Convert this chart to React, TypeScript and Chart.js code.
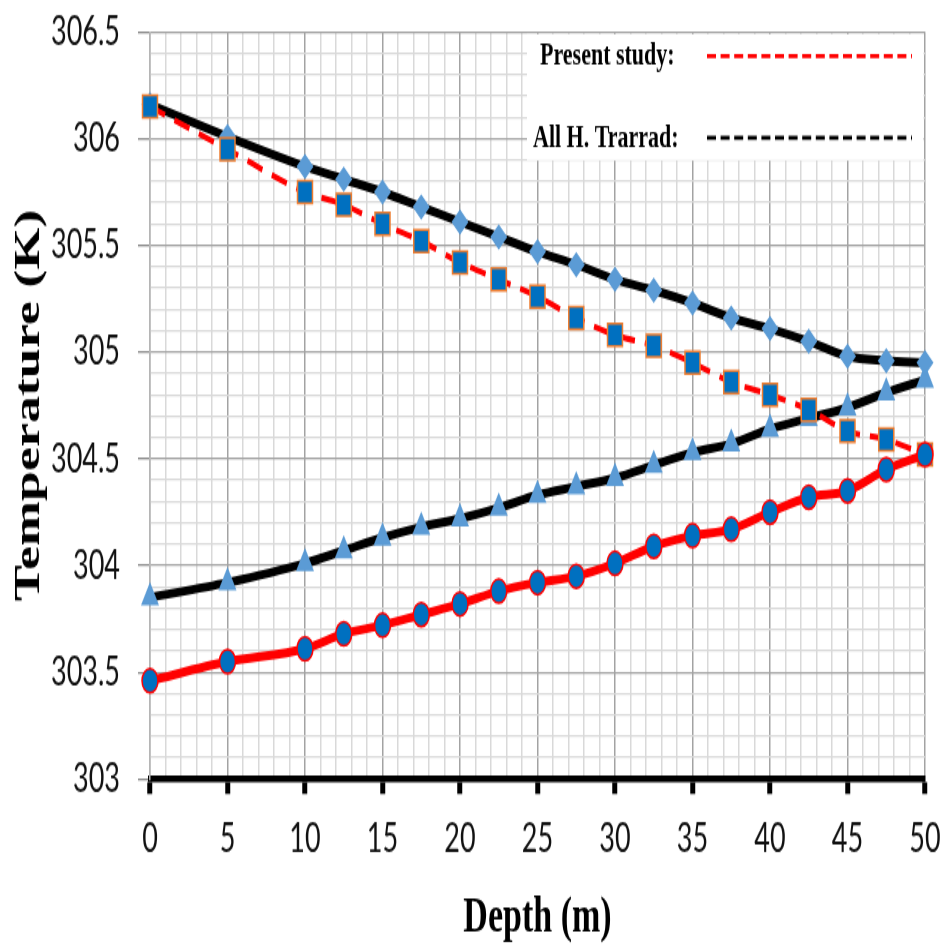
import React, { useEffect, useRef } from 'react';
import { Chart, registerables } from 'chart.js';

Chart.register(...registerables);

// ---- data ----
const depths = [0, 5, 10, 12.5, 15, 17.5, 20, 22.5, 25, 27.5, 30, 32.5, 35, 37.5, 40, 42.5, 45, 47.5, 50];
const presentUpper = [306.15, 305.95, 305.75, 305.69, 305.6, 305.52, 305.42, 305.34, 305.26, 305.16, 305.08, 305.03, 304.95, 304.86, 304.8, 304.73, 304.63, 304.59, 304.52];
const trarradUpper = [306.16, 306.01, 305.87, 305.81, 305.75, 305.68, 305.61, 305.54, 305.47, 305.41, 305.34, 305.29, 305.23, 305.16, 305.11, 305.05, 304.98, 304.96, 304.95];
const trarradLower = [303.85, 303.92, 304.01, 304.07, 304.13, 304.18, 304.22, 304.27, 304.33, 304.37, 304.41, 304.47, 304.53, 304.57, 304.64, 304.69, 304.74, 304.81, 304.87];
const presentLower = [303.46, 303.55, 303.61, 303.68, 303.72, 303.77, 303.82, 303.88, 303.92, 303.95, 304.01, 304.09, 304.14, 304.17, 304.25, 304.32, 304.35, 304.45, 304.52];

const xMin = 0;
const xMax = 50;
const xStep = 1;
const xLabelStep = 5;
const yMin = 303;
const yMax = 306.5;
const yStep = 0.1;
const yLabelStep = 0.5;

const xTitle = 'Depth (m)';
const yTitle = 'Temperature (K)';
const legendLabels = ['Present study:', 'All H. Trarrad:'];
const legendColors = ['#ff0000', '#000000'];

// ---- layout (internal canvas is stretched vertically to the page) ----
const W = 945;
const H = 634;
const OUT_H = 951;

const isMult = (v: number, step: number) => Math.abs(v / step - Math.round(v / step)) < 1e-6;

const toPts = (arr: number[]) => depths.map((d, i) => ({ x: d, y: arr[i] }));

const legendPlugin = {
  id: 'customLegend',
  afterDraw(chart: any) {
    const { ctx, chartArea: a } = chart;
    ctx.save();
    const bx = a.left + 377;
    const by = a.top + 1.5;
    const bw = a.right - 1.5 - bx;
    const bh = 84;
    ctx.fillStyle = '#ffffff';
    ctx.fillRect(bx, by, bw, bh);
    ctx.font = 'bold 22px "Liberation Serif", "Times New Roman", serif';
    ctx.textBaseline = 'middle';
    ctx.textAlign = 'left';
    const rowsY = [a.top + 16.5, a.top + 71];
    const textX = [a.left + 390, a.left + 383];
    legendLabels.forEach((lab, i) => {
      ctx.fillStyle = '#000';
      ctx.fillText(lab, textX[i], rowsY[i]);
      ctx.strokeStyle = legendColors[i];
      ctx.lineWidth = 2.8;
      ctx.setLineDash([9, 4.6]);
      ctx.beginPath();
      ctx.moveTo(a.left + 557, rowsY[i] - 0.5);
      ctx.lineTo(a.left + 762, rowsY[i] - 0.5);
      ctx.stroke();
    });
    ctx.restore();
  },
};

export default function App() {
  const ref = useRef<HTMLCanvasElement | null>(null);

  useEffect(() => {
    if (!ref.current) return;
    const tickFont = { family: 'Lato, "Open Sans", sans-serif', size: 27 };
    const chart = new Chart(ref.current, {
      type: 'line',
      data: {
        datasets: [
          {
            label: 'Present study (lower)',
            data: toPts(presentLower),
            borderColor: '#ff0000',
            borderWidth: 6,
            pointStyle: 'circle',
            pointRadius: 8,
            pointBackgroundColor: '#0070C0',
            pointBorderColor: '#ff0000',
            pointBorderWidth: 1.5,
            cubicInterpolationMode: 'monotone',
            fill: false,
            clip: false,
          },
          {
            label: 'Present study (upper)',
            data: toPts(presentUpper),
            borderColor: '#ff0000',
            borderWidth: 4,
            borderDash: [16, 10],
            pointStyle: 'rect',
            pointRadius: 10.6,
            pointBackgroundColor: '#0070C0',
            pointBorderColor: '#ED7D31',
            pointBorderWidth: 1.5,
            cubicInterpolationMode: 'monotone',
            fill: false,
            clip: false,
          },
          {
            label: 'All H. Trarrad (upper)',
            data: toPts(trarradUpper),
            borderColor: '#000000',
            borderWidth: 6,
            pointStyle: 'rectRot',
            pointRadius: 8.5,
            pointBackgroundColor: '#5B9BD5',
            pointBorderColor: '#5B9BD5',
            pointBorderWidth: 0,
            cubicInterpolationMode: 'monotone',
            fill: false,
            clip: false,
          },
          {
            label: 'All H. Trarrad (lower)',
            data: toPts(trarradLower),
            borderColor: '#000000',
            borderWidth: 6,
            pointStyle: 'triangle',
            pointRadius: 10.4,
            pointBackgroundColor: '#5B9BD5',
            pointBorderColor: '#5B9BD5',
            pointBorderWidth: 0,
            cubicInterpolationMode: 'monotone',
            fill: false,
            clip: false,
          },
        ],
      },
      options: {
        animation: false,
        responsive: false,
        maintainAspectRatio: false,
        devicePixelRatio: 1,
        events: [],
        layout: { padding: { top: 21.3, right: 20, left: 0, bottom: 0 } },
        plugins: {
          legend: { display: false },
          tooltip: { enabled: false },
          title: { display: false },
        },
        scales: {
          x: {
            type: 'linear',
            min: xMin,
            max: xMax,
            afterFit: (s: any) => {
              s.height = H - 519.3;
              s.paddingLeft = 0;
              s.paddingRight = 0;
              s.paddingTop = 0;
              s.paddingBottom = 0;
            },
            ticks: {
              stepSize: xStep,
              autoSkip: false,
              maxRotation: 0,
              minRotation: 0,
              maxTicksLimit: 500,
              padding: 14,
              color: '#111',
              font: tickFont,
              callback: (v: any) => (isMult(Number(v), xLabelStep) ? String(Math.round(Number(v))) : ''),
            },
            grid: {
              color: (c: any) => (c.tick && isMult(c.tick.value, xLabelStep) ? '#a3a3a3' : '#d9d9d9'),
              lineWidth: 1.5,
              drawTicks: true,
              tickLength: 10,
              tickWidth: 5,
              tickColor: (c: any) => (c.tick && isMult(c.tick.value, xLabelStep) ? '#000000' : 'rgba(0,0,0,0)'),
            },
            border: { display: true, color: '#000000', width: 4.5 },
            title: {
              display: true,
              text: xTitle,
              color: '#000',
              font: { family: '"Liberation Serif", "Times New Roman", serif', size: 34, weight: 'bold' },
              padding: { top: 1, bottom: 1 },
            },
          },
          y: {
            type: 'linear',
            min: yMin,
            max: yMax,
            afterFit: (s: any) => {
              s.width = 150;
              s.paddingLeft = 0;
              s.paddingRight = 0;
              s.paddingTop = 0;
              s.paddingBottom = 0;
            },
            ticks: {
              stepSize: yStep,
              autoSkip: false,
              maxTicksLimit: 500,
              padding: 18,
              color: '#111',
              font: tickFont,
              callback: (v: any) => (isMult(Number(v), yLabelStep) ? String(Number(Number(v).toFixed(1))) : ''),
            },
            grid: {
              color: (c: any) => (c.tick && isMult(c.tick.value, yLabelStep) ? '#a3a3a3' : '#d9d9d9'),
              lineWidth: 1.3,
              drawTicks: true,
              tickLength: 12,
              tickWidth: 1.3,
              tickColor: (c: any) => (c.tick && isMult(c.tick.value, yLabelStep) ? '#8c8c8c' : 'rgba(0,0,0,0)'),
            },
            border: { display: true, color: '#b5b5b5', width: 1.5 },
            title: {
              display: true,
              text: yTitle,
              color: '#000',
              font: { family: '"Liberation Serif", "Times New Roman", serif', size: 36, weight: 'bold' },
              padding: { top: 8, bottom: 0 },
            },
          },
        },
      },
      plugins: [legendPlugin],
    } as any);
    return () => chart.destroy();
  }, []);

  return (
    <div style={{ position: 'absolute', left: 0, top: 0, width: W, height: OUT_H, background: '#fff' }}>
      <canvas
        ref={ref}
        width={W}
        height={H}
        style={{ display: 'block', width: `${W}px`, height: `${OUT_H}px` }}
      />
    </div>
  );
}
